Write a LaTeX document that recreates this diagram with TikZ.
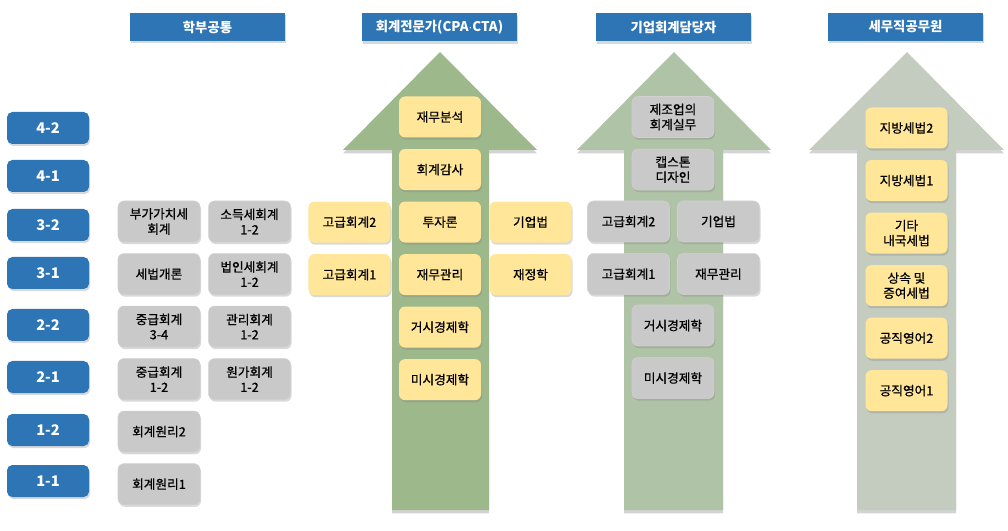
\documentclass[tikz,border=0pt]{standalone}
\usepackage{fontspec}
\setmainfont{Noto Sans CJK KR}
\newfontfamily\coursefont[FakeBold=0.7]{Noto Sans CJK KR}
\usepackage{tikz}
\usetikzlibrary{positioning,shadows}
\definecolor{hdrblue}{HTML}{2E75B6}
\definecolor{cpagreen}{HTML}{9DB98B}
\definecolor{corpgreen}{HTML}{AFC3A6}
\definecolor{taxgreen}{HTML}{C4CCBF}
\definecolor{yellowfill}{HTML}{FFE699}
\definecolor{grayfill}{HTML}{C9C9C9}

\begin{document}
\begin{tikzpicture}[
  x=0.75pt, y=-0.75pt,
  node distance=8.25pt and 6pt,
  shade/.style={drop shadow={opacity=0.3, shadow xshift=0.8pt, shadow yshift=-1.6pt}},
  header/.style={fill=hdrblue, text=white, font=\bfseries, minimum width=116pt, minimum height=21pt, inner sep=0pt, shade},
  term/.style={fill=hdrblue, rounded corners=4pt, text=white, font=\bfseries\fontsize{11}{13}\selectfont, minimum width=61.5pt, minimum height=24pt, inner sep=0pt, shade},
  course/.style={rounded corners=4.5pt, align=center, font=\coursefont\fontsize{9.5}{11.3}\selectfont, minimum width=61.5pt, minimum height=30.75pt, inner sep=1pt, shade},
  basic/.style={course, fill=grayfill, draw=black!18},
  major/.style={course, fill=yellowfill},
  lane/.style={drop shadow={opacity=0.35, shadow xshift=0pt, shadow yshift=-2.5pt}}
]
\useasboundingbox (0,0) rectangle (1008,531);

% headers
\node[header] (common) at (207.5,27) {학부공통};
\node[header] (cpa) at (439.5,27.5) {회계전문가(CPA$\cdot$CTA)};
\node[header] (corp) at (673.5,27.5) {기업회계담당자};
\node[header] (tax) at (905.5,27) {세무직공무원};

% lanes
\fill[cpagreen, lane] (392,510) -- (392,150) -- (343,150) -- (440,52) -- (537,150) -- (489,150) -- (489,510) -- cycle;
\fill[corpgreen, lane] (624,510) -- (624,150) -- (577,150) -- (674,52) -- (771,150) -- (723,150) -- (723,510) -- cycle;
\fill[taxgreen, lane] (857,510) -- (857,150) -- (809,150) -- (907,52) -- (1004,150) -- (956,150) -- (956,510) -- cycle;

% semesters
\node[term] (t42) at (48,128) {4-2};
\node[term] (t41) at (48,176) {4-1};
\node[term] (t32) at (48,225) {3-2};
\node[term] (t31) at (48,273) {3-1};
\node[term] (t22) at (48,325) {2-2};
\node[term] (t21) at (48,377) {2-1};
\node[term] (t12) at (48,430) {1-2};
\node[term] (t11) at (48,481) {1-1};

% common courses
\node[basic] (vat) at (159,221.5) {부가가치세\\회계};
\node[basic, right=of vat] (income) {소득세회계\\1-2};
\node[basic, below=of vat] (taxintro) {세법개론};
\node[basic, right=of taxintro] (corptax) {법인세회계\\1-2};
\node[basic, below=of taxintro] (inter34) {중급회계\\3-4};
\node[basic, right=of inter34] (mgmt) {관리회계\\1-2};
\node[basic, below=of inter34] (inter12) {중급회계\\1-2};
\node[basic, right=of inter12] (cost) {원가회계\\1-2};
\node[basic, below=of inter12] (prin2) {회계원리2};
\node[basic, below=of prin2] (prin1) {회계원리1};

% CPA track
\node[major] (cpaana) at (440,117) {재무분석};
\node[major, below=of cpaana] (cpaaudit) {회계감사};
\node[major, below=of cpaaudit] (cpainv) {투자론};
\node[major, below=of cpainv] (cpafin) {재무관리};
\node[major, below=of cpafin] (cpamacro) {거시경제학};
\node[major, below=of cpamacro] (cpamicro) {미시경제학};
\node[major, left=of cpainv] (cpaadv2) {고급회계2};
\node[major, left=of cpafin] (cpaadv1) {고급회계1};
\node[major, right=of cpainv] (cpalaw) {기업법};
\node[major, right=of cpafin] (cpapub) {재정학};

% corporate track
\node[basic] (corpmfg) at (673,117) {제조업의\\회계실무};
\node[basic, below=of corpmfg] (corpcap) {캡스톤\\디자인};
\node[basic] (corpadv2) at (628.5,221.5) {고급회계2};
\node[basic] (corplaw) at (718.5,221.5) {기업법};
\node[basic, below=of corpadv2] (corpadv1) {고급회계1};
\node[basic, below=of corplaw] (corpfin) {재무관리};
\node[basic] (corpmacro) at (673,325.5) {거시경제학};
\node[basic, below=of corpmacro] (corpmicro) {미시경제학};

% tax official track
\node[major] (taxloc2) at (906.5,128) {지방세법2};
\node[major, below=of taxloc2] (taxloc1) {지방세법1};
\node[major, below=of taxloc1] (taxetc) {기타\\내국세법};
\node[major, below=of taxetc] (taxgift) {상속 및\\증여세법};
\node[major, below=of taxgift] (taxeng2) {공직영어2};
\node[major, below=of taxeng2] (taxeng1) {공직영어1};
\end{tikzpicture}
\end{document}
